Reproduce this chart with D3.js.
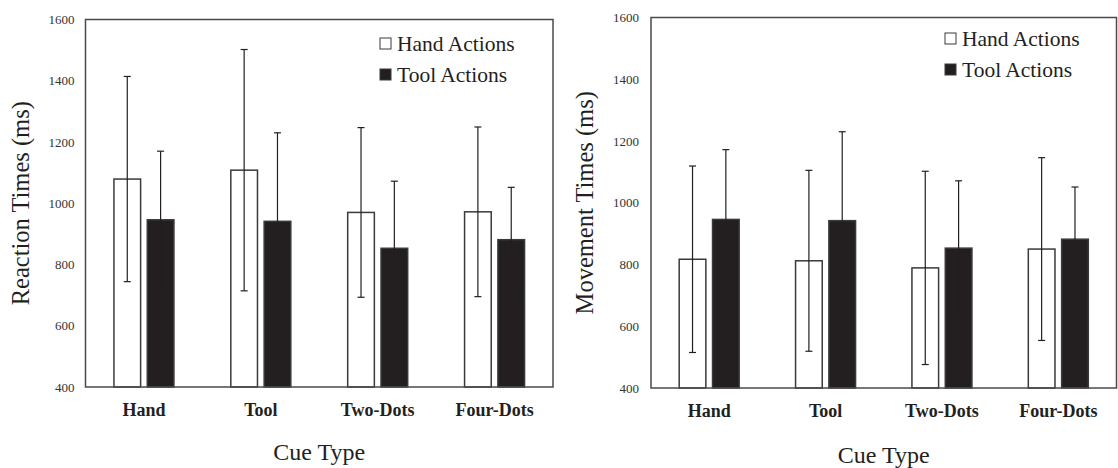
<!DOCTYPE html>
<html>
<head>
<meta charset="utf-8">
<script src="https://cdn.jsdelivr.net/npm/d3@7"></script>
<style>
    html, body { margin: 0; padding: 0; background: #fff; }
    svg { display: block; }
    svg text { font-family: "Liberation Serif", "Times New Roman", serif; }
</style>
</head>
<body>
<svg id="chart" width="1118" height="468"></svg>
<script>
// data (means and SD in ms)
var categories = ['Hand', 'Tool', 'Two-Dots', 'Four-Dots'];
var seriesNames = ['Hand Actions', 'Tool Actions'];
var yTicks = [400, 600, 800, 1000, 1200, 1400, 1600];

var rtHand = [1079, 1108, 970, 972];
var rtHandSD = [335, 394, 277, 277];
var rtTool = [946, 941, 853, 881];
var rtToolSD = [224, 289, 219, 171];

var mtHand = [817, 812, 789, 850];
var mtHandSD = [302, 293, 313, 296];
var mtTool = [946, 942, 853, 882];
var mtToolSD = [226, 288, 218, 169];

var serif = '"Liberation Serif", "Times New Roman", serif';
var ink = '#231f20';
var frame = '#4a4a4a';

var svg = d3.select('#chart');

function drawPanel(opts) {
    var g = svg.append('g');
    var left = opts.left, right = opts.right, top = opts.top, bottom = opts.bottom;

    var x0 = d3.scaleBand().domain(categories).range([left, right]).padding(0);
    var bw = x0.bandwidth();
    var x1 = d3.scaleBand().domain(seriesNames)
        .range([bw / 2 - 30, bw / 2 + 30])
        .paddingInner(0.2).paddingOuter(0);
    var y = d3.scaleLinear().domain([400, 1600]).range([bottom, top]);

    var rows = categories.map(function (c, i) {
        return [
            { cat: c, s: seriesNames[0], v: opts.hand[i], sd: opts.handSD[i] },
            { cat: c, s: seriesNames[1], v: opts.tool[i], sd: opts.toolSD[i] }
        ];
    });

    // y axis labels
    g.append('g')
        .attr('transform', 'translate(' + left + ',0)')
        .call(d3.axisLeft(y).tickValues(yTicks).tickFormat(d3.format('d')).tickSize(0).tickPadding(opts.tickPad))
        .call(function (a) { a.select('.domain').remove(); })
        .selectAll('text')
        .style('font-family', serif)
        .style('font-size', '13px')
        .attr('fill', '#333');

    // x axis labels
    g.append('g')
        .attr('transform', 'translate(0,' + bottom + ')')
        .call(d3.axisBottom(x0).tickSize(0).tickPadding(16))
        .call(function (a) { a.select('.domain').remove(); })
        .selectAll('text')
        .style('font-family', serif)
        .style('font-size', '18px')
        .style('font-weight', 'bold')
        .attr('fill', ink);

    // bars
    var groups = g.selectAll('g.grp')
        .data(rows)
        .enter().append('g')
        .attr('class', 'grp')
        .attr('transform', function (d) { return 'translate(' + x0(d[0].cat) + ',0)'; });

    groups.selectAll('rect')
        .data(function (d) { return d; })
        .enter().append('rect')
        .attr('x', function (d) { return x1(d.s); })
        .attr('y', function (d) { return y(d.v); })
        .attr('width', x1.bandwidth())
        .attr('height', function (d) { return y(400) - y(d.v); })
        .attr('fill', function (d) { return d.s === seriesNames[0] ? '#fff' : ink; })
        .attr('stroke', '#3a3a3a')
        .attr('stroke-width', 1.5);

    // error bars
    var err = groups.selectAll('g.err')
        .data(function (d) { return d; })
        .enter().append('g')
        .attr('class', 'err')
        .attr('transform', function (d) { return 'translate(' + (x1(d.s) + x1.bandwidth() / 2) + ',0)'; });

    err.append('line')
        .attr('x1', 0).attr('x2', 0)
        .attr('y1', function (d) { return y(d.v - d.sd); })
        .attr('y2', function (d) { return y(d.v + d.sd); })
        .attr('stroke', ink)
        .attr('stroke-width', 1.2);

    err.selectAll('line.cap')
        .data(function (d) { return [d.v - d.sd, d.v + d.sd]; })
        .enter().append('line')
        .attr('class', 'cap')
        .attr('x1', -3.5).attr('x2', 3.5)
        .attr('y1', function (v) { return y(v); })
        .attr('y2', function (v) { return y(v); })
        .attr('stroke', ink)
        .attr('stroke-width', 1.2);

    // frame
    g.append('rect')
        .attr('x', left).attr('y', top)
        .attr('width', right - left).attr('height', bottom - top)
        .attr('fill', 'none')
        .attr('stroke', frame)
        .attr('stroke-width', 1.5);

    // legend
    var lg = g.append('g')
        .attr('transform', 'translate(' + opts.legendX + ',' + opts.legendY + ')');
    var items = lg.selectAll('g')
        .data(seriesNames)
        .enter().append('g')
        .attr('transform', function (d, i) { return 'translate(0,' + (i * 31) + ')'; });
    items.append('rect')
        .attr('x', 0).attr('y', -5.5)
        .attr('width', 11).attr('height', 11)
        .attr('fill', function (d, i) { return i === 0 ? '#fff' : ink; })
        .attr('stroke', '#3a3a3a')
        .attr('stroke-width', 1);
    items.append('text')
        .attr('x', 17).attr('y', 0)
        .attr('dy', '0.33em')
        .style('font-family', serif)
        .style('font-size', '21.5px')
        .attr('fill', ink)
        .text(function (d) { return d; });

    // axis titles
    g.append('text')
        .attr('transform', 'translate(' + opts.yTitleX + ',' + ((top + bottom) / 2) + ') rotate(-90)')
        .attr('text-anchor', 'middle')
        .attr('dy', '0.35em')
        .style('font-family', serif)
        .style('font-size', '24.5px')
        .attr('fill', ink)
        .text(opts.yTitle);

    g.append('text')
        .attr('x', (left + right) / 2)
        .attr('y', opts.xTitleY)
        .attr('text-anchor', 'middle')
        .attr('dy', '0.35em')
        .style('font-family', serif)
        .style('font-size', '24px')
        .attr('fill', ink)
        .text('Cue Type');
}

drawPanel({
    left: 85.5, right: 553, top: 19.5, bottom: 387,
    hand: rtHand, handSD: rtHandSD, tool: rtTool, toolSD: rtToolSD,
    tickPad: 11, legendX: 380, legendY: 43.5,
    yTitle: 'Reaction Times (ms)', yTitleX: 20, xTitleY: 452
});

drawPanel({
    left: 651, right: 1116.5, top: 17.5, bottom: 388,
    hand: mtHand, handSD: mtHandSD, tool: mtTool, toolSD: mtToolSD,
    tickPad: 12, legendX: 945, legendY: 38.5,
    yTitle: 'Movement Times (ms)', yTitleX: 584, xTitleY: 455
});
</script>
</body>
</html>
